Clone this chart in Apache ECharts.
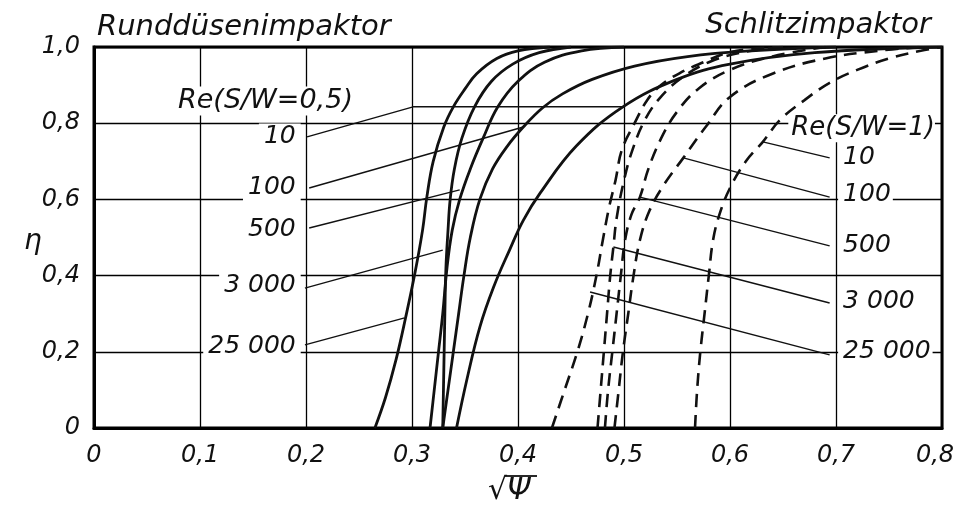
<!DOCTYPE html>
<html>
<head>
<meta charset="utf-8">
<script src="https://cdn.jsdelivr.net/npm/echarts@6/dist/echarts.min.js"></script>
<style>
  html, body { margin: 0; background: #fff; }
  #chart { width: 957px; height: 513px; }
</style>
</head>
<body>
<div id="chart"></div>
<script>
// Abscheidegrad eta ueber sqrt(Psi), Runddüse (S/W=0,5) und Schlitz (S/W=1)
const reynolds = ['10', '100', '500', '3 000', '25 000'];

// Runddüsenimpaktor (durchgezogen)
const round10 = [[0.342, 0], [0.352, 0.13], [0.364, 0.265], [0.377, 0.37], [0.392, 0.467], [0.405, 0.545], [0.421, 0.617], [0.455, 0.74], [0.499, 0.843], [0.55, 0.915], [0.6, 0.955], [0.68, 0.985], [0.8, 1.0]];
const round100 = [[0.329, 0], [0.334, 0.1], [0.339, 0.2], [0.344, 0.3], [0.349, 0.4], [0.355, 0.5], [0.364, 0.6], [0.376, 0.68], [0.39, 0.74], [0.405, 0.79], [0.423, 0.84], [0.442, 0.877], [0.47, 0.915], [0.51, 0.95], [0.56, 0.975], [0.62, 0.99], [0.7, 1.0]];
const round500 = [[0.317, 0], [0.321, 0.1], [0.325, 0.2], [0.329, 0.3], [0.333, 0.42], [0.338, 0.52], [0.345, 0.6], [0.355, 0.68], [0.367, 0.76], [0.381, 0.843], [0.4, 0.91], [0.425, 0.96], [0.46, 0.99], [0.5, 1.0]];
const round3000 = [[0.329, 0], [0.33, 0.15], [0.331, 0.3], [0.332, 0.42], [0.334, 0.52], [0.336, 0.6], [0.34, 0.68], [0.347, 0.76], [0.359, 0.843], [0.375, 0.91], [0.395, 0.955], [0.42, 0.985], [0.45, 1.0]];
const round25000 = [[0.265, 0], [0.275, 0.08], [0.285, 0.18], [0.294, 0.29], [0.303, 0.41], [0.31, 0.52], [0.314, 0.606], [0.32, 0.7], [0.33, 0.79], [0.339, 0.843], [0.35, 0.89], [0.361, 0.93], [0.38, 0.97], [0.4, 0.99], [0.43, 1.0]];

// Schlitzimpaktor (gestrichelt)
const slit10 = [[0.567, 0], [0.569, 0.1], [0.572, 0.2], [0.576, 0.3], [0.58, 0.4], [0.584, 0.493], [0.59, 0.56], [0.6, 0.63], [0.615, 0.7], [0.631, 0.751], [0.647, 0.808], [0.67, 0.86], [0.694, 0.906], [0.72, 0.94], [0.75, 0.97], [0.78, 0.99], [0.8, 1.0]];
const slit100 = [[0.491, 0], [0.495, 0.1], [0.499, 0.2], [0.504, 0.3], [0.509, 0.4], [0.515, 0.493], [0.524, 0.57], [0.538, 0.64], [0.556, 0.709], [0.577, 0.79], [0.6, 0.869], [0.64, 0.93], [0.69, 0.97], [0.74, 0.99], [0.78, 1.0]];
const slit500 = [[0.482, 0], [0.485, 0.1], [0.489, 0.2], [0.493, 0.3], [0.497, 0.4], [0.501, 0.493], [0.507, 0.56], [0.515, 0.606], [0.523, 0.68], [0.535, 0.76], [0.55, 0.83], [0.57, 0.89], [0.6, 0.94], [0.64, 0.975], [0.69, 1.0]];
const slit3000 = [[0.475, 0], [0.478, 0.1], [0.481, 0.2], [0.484, 0.3], [0.487, 0.4], [0.49, 0.475], [0.493, 0.55], [0.5, 0.65], [0.508, 0.73], [0.52, 0.81], [0.535, 0.87], [0.555, 0.92], [0.58, 0.96], [0.61, 0.985], [0.65, 1.0]];
const slit25000 = [[0.432, 0], [0.444, 0.1], [0.456, 0.2], [0.466, 0.3], [0.474, 0.4], [0.48, 0.493], [0.486, 0.58], [0.492, 0.65], [0.498, 0.73], [0.51, 0.8], [0.522, 0.861], [0.535, 0.9], [0.553, 0.932], [0.575, 0.96], [0.597, 0.984], [0.62, 0.995], [0.65, 1.0]];

// Bezugslinien Beschriftung -> Kurve
const leadRound = [
  [[0.201, 0.764], [0.301, 0.843], [0.499, 0.843]],
  [[0.203, 0.63], [0.405, 0.79]],
  [[0.203, 0.525], [0.345, 0.625]],
  [[0.199, 0.367], [0.329, 0.467]],
  [[0.199, 0.218], [0.293, 0.289]]
];
const leadSlit = [
  [[0.631, 0.751], [0.694, 0.709]],
  [[0.556, 0.709], [0.694, 0.606]],
  [[0.515, 0.606], [0.694, 0.478]],
  [[0.49, 0.475], [0.694, 0.328]],
  [[0.468, 0.357], [0.694, 0.192]]
];

// Beschriftungspositionen
const labelRoundPos = [[0.195, 0.764], [0.195, 0.63], [0.195, 0.52], [0.195, 0.373], [0.195, 0.213]];
const labelSlitPos = [[0.702, 0.709], [0.702, 0.612], [0.702, 0.48], [0.702, 0.331], [0.702, 0.2]];

const FONT = 'DejaVu Sans';
const INK = '#111';

const chart = echarts.init(document.getElementById('chart'));

function fmt(v) {
  return v === 0 ? '0' : v.toFixed(1).replace('.', ',');
}
// letzte x-Beschriftung wie im Original etwas nach links
function fmtX(v) {
  return v >= 0.8 ? '{last|' + fmt(v) + '}' : fmt(v);
}

const roundCurves = [round10, round100, round500, round3000, round25000];
const slitCurves = [slit10, slit100, slit500, slit3000, slit25000];

const series = [];
roundCurves.forEach((d, i) => {
  series.push({
    name: 'Rund Re ' + reynolds[i], type: 'line', data: d, smooth: 0.4,
    symbol: 'none', lineStyle: { color: INK, width: 2.8 }, z: 3
  });
});
slitCurves.forEach((d, i) => {
  series.push({
    name: 'Schlitz Re ' + reynolds[i], type: 'line', data: d, smooth: 0.4,
    symbol: 'none', lineStyle: { color: INK, width: 2.6, type: [13, 8] }, z: 3
  });
});
leadRound.concat(leadSlit).forEach((d) => {
  series.push({
    type: 'line', data: d, symbol: 'none', silent: true,
    lineStyle: { color: INK, width: 1.4 }, z: 2
  });
});

const textBase = {
  show: true, color: INK, opacity: 1, fontFamily: FONT, fontStyle: 'italic',
  fontSize: 25, backgroundColor: '#fff', padding: [1, 5]
};

series.push({
  type: 'scatter', symbolSize: 0, silent: true, z: 5, itemStyle: { opacity: 1 },
  data: labelRoundPos.map((p, i) => ({ value: p, name: reynolds[i] })),
  label: Object.assign({}, textBase, { position: 'left', distance: 0, formatter: '{b}' })
});
series.push({
  type: 'scatter', symbolSize: 0, silent: true, z: 5, itemStyle: { opacity: 1 },
  data: labelSlitPos.map((p, i) => ({ value: p, name: reynolds[i] })),
  label: Object.assign({}, textBase, { position: 'right', distance: 0, formatter: '{b}', padding: [1, 2, 1, 5] })
});
series.push({
  type: 'scatter', symbolSize: 0, silent: true, z: 5, itemStyle: { opacity: 1 },
  data: [
    { value: [0.0764, 0.858], name: 'Re(S/W=0,5)', label: { fontSize: 27 } },
    { value: [0.655, 0.787], name: 'Re(S/W=1)', label: { fontSize: 26 } }
  ],
  label: Object.assign({}, textBase, { position: 'right', distance: 0, formatter: '{b}', padding: [1, 0, 1, 3] })
});

const titleStyle = { color: INK, fontFamily: FONT, fontStyle: 'italic', fontWeight: 'normal', fontSize: 29 };
const tickFont = { color: INK, fontFamily: FONT, fontStyle: 'italic', fontSize: 24 };

const option = {
  animation: false,
  backgroundColor: '#fff',
  grid: {
    left: 94, right: 15, top: 47, bottom: 85, outerBoundsMode: 'none',
    show: true, borderColor: '#000', borderWidth: 3
  },
  title: [
    { text: 'Runddüsenimpaktor', left: 92, top: 8, textStyle: titleStyle },
    { text: 'Schlitzimpaktor', right: 21, top: 6, textStyle: titleStyle }
  ],
  xAxis: {
    type: 'value', min: 0, max: 0.8, interval: 0.1,
    axisLine: { show: true, lineStyle: { color: '#000', width: 3 } },
    axisTick: { show: false },
    splitLine: { show: true, lineStyle: { color: '#000', width: 1.3 } },
    axisLabel: Object.assign({}, tickFont, {
      margin: 16, formatter: fmtX,
      rich: { last: Object.assign({}, tickFont, { padding: [0, 14, 0, 0] }) }
    })
  },
  yAxis: {
    type: 'value', min: 0, max: 1, interval: 0.2,
    axisLine: { show: true, lineStyle: { color: '#000', width: 3 } },
    axisTick: { show: false },
    splitLine: { show: true, lineStyle: { color: '#000', width: 1.3 } },
    axisLabel: Object.assign({}, tickFont, { margin: 14, formatter: fmt })
  },
  graphic: [
    { type: 'text', left: 24, top: 228,
      style: { text: 'η', fill: INK, font: 'italic 28px "DejaVu Sans"' } },
    { type: 'text', left: 488, top: 476,
      style: { text: '√Ψ', fill: INK, font: 'italic 30px "DejaVu Sans"' } },
    { type: 'line', shape: { x1: 505, y1: 476, x2: 537, y2: 476 },
      style: { stroke: INK, lineWidth: 1.8 } }
  ],
  series: series
};

chart.setOption(option);
</script>
</body>
</html>
